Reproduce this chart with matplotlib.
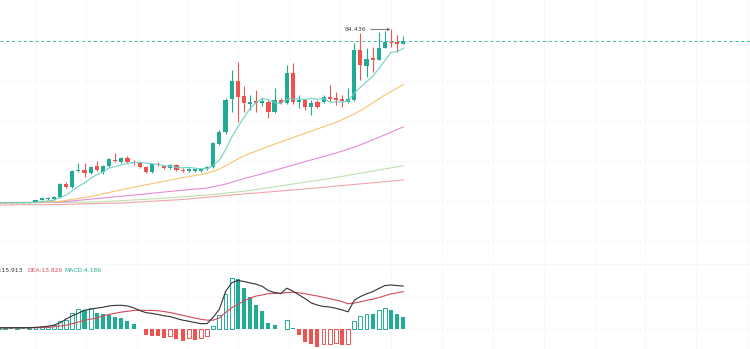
import matplotlib
matplotlib.use('Agg')
import matplotlib.pyplot as plt
import numpy as np

# candles (price units), one per bar
opens = [15.28, 15.08, 15.24, 15.04, 15.20, 15.00, 15.60, 16.2, 16.6, 16.6,
         17.4, 22.6, 21.4, 27.8, 28.2, 27.0, 29.8, 27.4, 29.8, 32.2,
         31.4, 33.0, 31.4, 31.0, 29.4, 27.4, 30.6, 29.8, 29.0, 30.2,
         28.2, 27.8, 27.8, 27.8, 28.6, 29.4, 38.6, 43.4, 56.6, 63.8,
         57.8, 54.6, 55.8, 55.0, 55.4, 51.4, 56.2, 55.0, 67.0, 55.4,
         56.2, 53.4, 55.4, 55.4, 57.4, 57.0, 56.6, 55.4, 56.2, 76.2,
         69.8, 73.0, 72.2, 77.0, 79.4, 79.4, 78.6]
highs = [15.40, 15.40, 15.36, 15.40, 15.32, 15.48, 16.10, 17.2, 17.4, 17.8,
         23.0, 23.4, 28.2, 31.0, 31.0, 29.8, 31.8, 30.2, 33.0, 35.0,
         33.4, 33.8, 32.2, 31.4, 29.8, 31.0, 31.4, 30.2, 30.6, 30.6,
         29.0, 29.0, 28.8, 29.0, 29.8, 39.4, 44.2, 57.0, 68.2, 71.4,
         61.8, 58.2, 60.2, 57.0, 56.2, 61.0, 57.0, 70.2, 71.0, 58.2,
         56.6, 56.2, 56.2, 58.2, 62.2, 59.4, 58.2, 61.0, 79.0, 83.0,
         77.0, 77.4, 83.4, 83.8, 84.436, 82.2, 81.8]
lows = [15.00, 15.00, 14.96, 15.00, 14.92, 14.96, 15.50, 16.1, 16.4, 16.4,
        17.0, 21.0, 21.0, 27.4, 25.4, 26.6, 27.8, 26.6, 29.4, 31.4,
        31.0, 31.0, 30.2, 29.0, 27.0, 27.0, 29.8, 28.6, 28.6, 27.8,
        27.4, 27.4, 27.6, 27.6, 28.2, 29.0, 38.2, 42.6, 51.4, 47.4,
        51.4, 52.2, 51.4, 53.8, 49.0, 51.0, 54.6, 54.6, 54.6, 53.0,
        52.2, 50.2, 53.0, 55.0, 55.8, 54.2, 53.4, 55.0, 55.8, 64.2,
        65.4, 67.4, 72.2, 77.0, 77.4, 75.4, 78.6]
closes = [15.08, 15.28, 15.04, 15.24, 15.00, 15.40, 16.00, 17.0, 17.0, 17.4,
          22.6, 21.4, 27.8, 28.2, 27.0, 29.4, 28.2, 29.8, 32.6, 31.8,
          33.0, 31.4, 31.0, 29.4, 27.4, 30.6, 30.2, 29.0, 30.2, 28.2,
          27.8, 28.6, 28.6, 28.6, 29.4, 39.0, 43.4, 56.2, 63.8, 57.4,
          55.0, 55.4, 55.0, 55.8, 51.4, 56.2, 55.0, 67.0, 55.4, 56.2,
          53.4, 55.0, 53.4, 57.4, 56.6, 56.2, 55.8, 56.6, 76.2, 70.2,
          72.6, 72.2, 77.0, 79.4, 79.0, 78.6, 79.8]

# moving average lines
ma7 = [15.15, 15.15, 15.15, 15.16, 15.15, 15.17, 15.29, 15.57, 15.81, 16.15,
       17.2, 18.11, 19.89, 21.63, 23.06, 24.83, 26.37, 27.4, 29.0, 29.57,
       30.26, 30.89, 31.11, 31.29, 30.94, 30.66, 30.43, 29.86, 29.69, 29.29,
       29.06, 29.23, 28.94, 28.71, 28.77, 30.03, 32.2, 36.26, 41.29, 45.4,
       49.17, 52.89, 55.17, 56.94, 56.26, 55.17, 54.83, 56.54, 56.54, 56.71,
       56.37, 56.89, 56.49, 56.83, 55.34, 55.46, 55.4, 55.86, 58.89, 61.29,
       63.46, 65.69, 68.66, 72.03, 75.23, 75.57, 76.94]
ma30_at = [0, 5, 10, 15, 20, 25, 29, 34, 35, 36, 37, 40, 45, 50, 55, 58, 60, 63, 66]
ma30 = [15.1, 15.14, 15.66, 17.6, 20.27, 22.75, 24.65, 26.9, 27.69, 28.6, 29.9,
        33.88, 38.55, 42.93, 47.23, 50.53, 53.43, 58.19, 62.37]
ma60_at = [0, 10, 20, 29, 34, 37, 40, 45, 50, 55, 58, 60, 63, 66]
ma60 = [15.1, 15.38, 17.69, 19.88, 21.0, 22.56, 24.74, 28.04, 31.57, 34.95,
        37.34, 39.22, 42.27, 45.45]
ma120_at = [0, 16, 27, 35, 41, 54, 66]
ma120 = [14.9, 15.4, 16.9, 18.4, 20.0, 24.8, 29.9]
ma200_at = [0, 10, 20, 30, 38, 49, 57, 66]
ma200 = [14.2, 14.4, 15.0, 16.4, 18.2, 20.4, 22.2, 24.2]

# MACD panel
dif = [0.37, 0.37, 0.37, 0.38, 0.38, 0.4, 0.5, 0.7, 0.9, 1.3,
       2.2, 3.6, 4.8, 5.8, 6.9, 7.3, 7.7, 8.0, 8.5, 8.7,
       8.75, 8.5, 7.8, 6.8, 6.0, 5.7, 5.3, 4.8, 4.5, 3.8,
       3.2, 2.8, 2.3, 1.9, 1.9, 4.3, 7.3, 13.8, 17.1, 18.0,
       17.6, 17.1, 16.6, 15.8, 14.2, 13.5, 13.1, 15.1, 14.0, 12.6,
       11.2, 9.6, 8.8, 8.3, 8.1, 7.6, 7.0, 6.3, 10.6, 12.0,
       13.0, 13.8, 15.0, 16.1, 16.3, 16.1, 15.913]
dea = [0.3, 0.3, 0.3, 0.3, 0.3, 0.32, 0.35, 0.45, 0.55, 0.7,
       1.0, 1.3, 1.9, 2.5, 3.1, 3.6, 4.0, 4.8, 5.3, 5.8,
       6.2, 6.5, 6.8, 6.9, 6.85, 6.8, 6.7, 6.4, 6.0, 5.5,
       5.0, 4.5, 4.0, 3.5, 3.2, 3.2, 4.0, 6.0, 7.8, 9.0,
       10.4, 11.4, 12.2, 12.6, 13.1, 13.2, 13.2, 13.5, 13.6, 13.4,
       13.0, 12.6, 12.2, 11.7, 11.2, 10.7, 10.1, 9.3, 9.6, 10.0,
       10.6, 11.0, 11.6, 12.3, 13.0, 13.4, 13.82]
macd = [0.11, 0.19, 0.15, 0.22, 0.19, 0.3, 0.56, 0.75, 0.82, 1.27,
        2.99, 3.25, 5.97, 7.2, 6.98, 7.57, 5.71, 5.49, 5.11, 4.48,
        3.84, 2.99, 1.6, -0.19, -2.35, -2.61, -2.72, -3.36, -2.72, -3.84,
        -4.59, -3.62, -4.22, -3.36, -2.72, 0.93, 5.04, 13.06, 19.03, 18.5,
        15.19, 11.94, 8.96, 6.46, 2.31, 1.31, -0.11, 3.21, 0.37, -2.24,
        -4.96, -5.63, -6.9, -5.71, -5.6, -5.41, -5.97, -5.78, 2.72, 4.59,
        5.6, 5.52, 6.83, 7.72, 6.83, 5.49, 4.186]

GREEN = '#22ab94'
RED = '#ef5350'

n = len(closes)
idx = np.arange(n)
o = np.array(opens)
c = np.array(closes)
up = c >= o

fig = plt.figure(figsize=(7.5, 3.49), dpi=100)
ax = fig.add_axes([0, 1 - 255 / 349, 1, 255 / 349])
ax2 = fig.add_axes([0, 0, 1, 91 / 349])

for a in (ax, ax2):
    a.set_xlim(0.212, 122.56)
    for s in a.spines.values():
        s.set_visible(False)
    a.tick_params(length=0, labelbottom=False, labelleft=False)
    a.set_xticks(np.arange(5.9, 123, 8.3))
    a.grid(True, color='#f6f7f9', linewidth=0.6)
    a.set_axisbelow(True)

ax.set_ylim(-5.8, 96.2)
ax.set_yticks(np.arange(0, 96, 16))

# moving averages
ax.plot(ma200_at, ma200, color='#f0a5ad', lw=0.8, zorder=2)
ax.plot(ma120_at, ma120, color='#bfe0ae', lw=0.8, zorder=2)
ax.plot(ma60_at, ma60, color='#e58ad8', lw=0.8, zorder=2)
ax.plot(ma30_at, ma30, color='#f6c46e', lw=0.8, zorder=2)

# candles
colors = [GREEN if u else RED for u in up]
ax.vlines(idx, lows, highs, colors=colors, lw=0.8, zorder=3)
body_lo = np.minimum(o, c)
body_h = np.maximum(np.abs(c - o), 0.45)
ax.bar(idx, body_h, bottom=body_lo, width=0.68, color=colors, zorder=4)

ax.plot(idx, ma7, color='#6fd1c4', lw=0.8, zorder=5)

# last price line + high label
ax.axhline(closes[-1], color='#3fbf9f', lw=0.7, ls=(0, (3, 3)), zorder=1)
hi = int(np.argmax(highs))
ax.annotate('84.436', xy=(hi - 0.15, highs[hi]), xytext=(hi - 4.0, highs[hi]),
            fontsize=4.5, color='#444444', ha='right', va='center',
            arrowprops=dict(arrowstyle='->', color='#444444', lw=0.5,
                            shrinkA=1, shrinkB=0, mutation_scale=4))

# MACD panel
ax2.set_ylim(-7.57, 26.38)
ax2.set_yticks([0, 12, 24])
m = np.array(macd)
for i in range(n):
    rising = m[i] > (m[i - 1] if i > 0 else 0)
    col = GREEN if m[i] >= 0 else RED
    if rising:
        ax2.bar(i, m[i], width=0.62, facecolor='white', edgecolor=col, lw=0.7, zorder=3)
    else:
        ax2.bar(i, m[i], width=0.66, color=col, lw=0, zorder=3)
ax2.plot(idx, dea, color='#d24b5a', lw=0.8, zorder=4)
ax2.plot(idx, dif, color='#333333', lw=0.8, zorder=5)

ty = 1 - 271 / 349
fig.text(23 / 750, ty, 'DIF:15.913', fontsize=4.3, color='#333333', ha='right', va='center')
fig.text(27 / 750, ty, 'DEA:13.820', fontsize=4.3, color='#d24b5a', ha='left', va='center')
fig.text(64 / 750, ty, 'MACD:4.186', fontsize=4.3, color=GREEN, ha='left', va='center')

fig.savefig('out.png', dpi=100, facecolor='white')
